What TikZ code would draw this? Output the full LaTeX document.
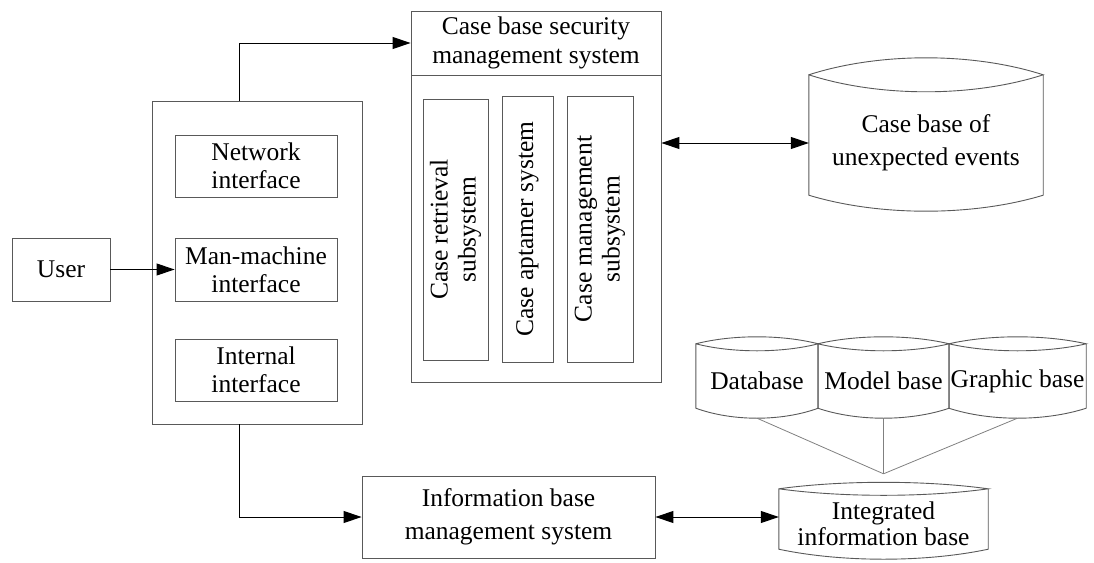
\documentclass[tikz,border=0pt]{standalone}
\usepackage{fontspec}
\setmainfont{Liberation Serif}
\usetikzlibrary{arrows.meta,calc}
\tikzset{
  box/.style={draw=black!65, line width=0.9pt, inner sep=0pt, align=center},
  storebody/.style={inner sep=0pt, align=center},
  storeline/.style={draw=black!65, line width=0.9pt},
  tip/.tip={Triangle[length=18pt,width=12pt]},
  link/.style={draw=black, line width=1pt, -tip},
  dlink/.style={draw=black, line width=1pt, tip-tip},
  feed/.style={draw=black!50, line width=0.8pt},
  wide/.style={font=\fontsize{25.5}{33}\selectfont}
}
\newcommand\drawstore[3]{%
  \draw[storeline] let \p1=(#1.north west), \p2=(#1.south east),
     \p3=($(#1.north west)!0.3!(#1.north east)$), \p4=($(#1.north west)!0.7!(#1.north east)$) in
   (\x1,\y1) .. controls (\x3,\y1+1.333*#2) and (\x4,\y1+1.333*#2) .. (\x2,\y1)
   .. controls (\x4,\y1-1.333*#2) and (\x3,\y1-1.333*#2) .. (\x1,\y1)
   -- (\x1,\y2+#3) .. controls (\x3,\y2-0.333*#3) and (\x4,\y2-0.333*#3) .. (\x2,\y2+#3) -- (\x2,\y1);
}
\begin{document}
\begin{tikzpicture}[x=1pt,y=-1pt, font=\fontsize{25.5}{28}\selectfont]
\useasboundingbox (0,0) rectangle (1094,562);
% left interface block
\node[box, minimum width=210pt, minimum height=323pt] (ifc) at (257,262.5) {};
\node[box, minimum width=162pt, minimum height=62pt] (net) at (256,166) {Network\\interface};
\node[box, minimum width=162pt, minimum height=63pt] (mm) at (256,269.5) {Man-machine\\interface};
\node[box, minimum width=162pt, minimum height=62pt] (int) at (256,370) {Internal\\interface};
\node[box, minimum width=98pt, minimum height=63pt] (user) at (61,269.5) {User};
% case base security management system
\node[box, minimum width=250pt, minimum height=371pt] (cbs) at (536,196.5) {};
\node[box, minimum width=250pt, minimum height=64pt, font=\fontsize{25.5}{29}\selectfont] (cbh) at (536,43) {Case base security\\management system};
\node[box, rotate=90, minimum width=261pt, minimum height=65pt] (cr) at (455.5,229.5) {Case retrieval\\subsystem};
\node[box, rotate=90, minimum width=266pt, minimum height=51pt] (ca) at (527.5,229) {Case aptamer system};
\node[box, rotate=90, minimum width=266pt, minimum height=66pt] (cm) at (600,229) {Case management\\subsystem};
% case base store
\node[storebody, wide, minimum width=234pt, minimum height=136pt] (cb) at (926,143) {Case base of\\unexpected events};
\drawstore{cb}{17pt}{16pt}
% information base management
\node[box, wide, minimum width=293pt, minimum height=82pt] (ibm) at (508.5,517) {Information base\\management system};
% stores
\node[storebody, minimum width=122pt, minimum height=74pt] (db) at (757,381) {Database};
\node[storebody, minimum width=131pt, minimum height=74pt] (mb) at (883.5,381) {Model base};
\node[storebody, minimum width=137pt, minimum height=74pt] (gb) at (1017.5,381) {Graphic base};
\drawstore{db}{7pt}{10pt}
\drawstore{mb}{7pt}{10pt}
\drawstore{gb}{7pt}{10pt}
\node[storebody, font=\fontsize{25.5}{26}\selectfont, minimum width=209pt, minimum height=70pt] (ib) at (883.5,524) {\rule{0pt}{14pt}Integrated\\information base};
\drawstore{ib}{6.5pt}{10pt}
\coordinate (conv) at ([yshift=15pt]ib.north);
% connectors
\draw[link] (user.east) -- (mm.west);
\draw[link] ([xshift=88pt]ifc.north west) |- (cbh.west);
\draw[link] ([xshift=88pt]ifc.south west) |- (ibm.west);
\draw[dlink] (cbs.east |- cb.west) -- (cb.west);
\draw[dlink] (ibm.east) -- (ibm.east -| ib.west);
\draw[feed] (db.south) -- (conv);
\draw[feed] (mb.south) -- (conv);
\draw[feed] (gb.south) -- (conv);
\end{tikzpicture}
\end{document}
